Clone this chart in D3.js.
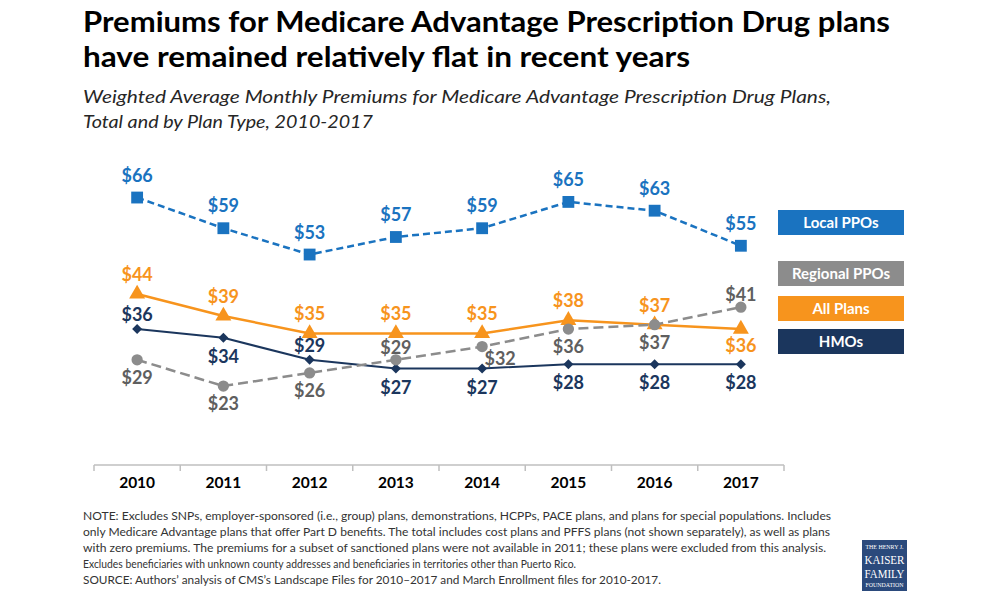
<!DOCTYPE html>
<html>
<head>
<meta charset="utf-8">
<script src="https://cdn.jsdelivr.net/npm/d3@7/dist/d3.min.js"></script>
<style>
  html, body { margin: 0; padding: 0; background: #fff; }
  svg { display: block; font-family: Lato, "Open Sans", sans-serif; }
</style>
</head>
<body>
<svg id="chart" width="1000" height="600"></svg>
<script>
// ---------- data ----------
const years = ["2010", "2011", "2012", "2013", "2014", "2015", "2016", "2017"];
const localPPOs = [66, 59, 53, 57, 59, 65, 63, 55];
const regionalPPOs = [29, 23, 26, 29, 32, 36, 37, 41];
const allPlans = [44, 39, 35, 35, 35, 38, 37, 36];
const hmos = [36, 34, 29, 27, 27, 28, 28, 28];
const seriesNames = ["Local PPOs", "Regional PPOs", "All Plans", "HMOs"];

const titleLines = [
  "Premiums for Medicare Advantage Prescription Drug plans",
  "have remained relatively flat in recent years"
];
const subtitleLines = [
  "Weighted Average Monthly Premiums for Medicare Advantage Prescription Drug Plans,",
  "Total and by Plan Type, 2010-2017"
];
const noteLines = [
  "NOTE: Excludes SNPs, employer-sponsored (i.e., group) plans, demonstrations, HCPPs, PACE plans, and plans for special populations.  Includes",
  "only Medicare Advantage plans that offer Part D benefits. The total includes cost plans and PFFS plans (not shown separately), as well as plans",
  "with zero premiums. The premiums for a subset of sanctioned plans were not available in 2011;  these plans were excluded from this analysis.",
  "Excludes beneficiaries with unknown county addresses and beneficiaries in territories other than Puerto Rico.",
  "SOURCE:  Authors\u2019 analysis of CMS\u2019s Landscape Files for 2010\u20132017  and March Enrollment files for 2010-2017."
];

// ---------- layout / style ----------
const svg = d3.select("#chart");

const x = d3.scaleBand().domain(years).range([94, 784]);
const cx = d => x(d) + x.bandwidth() / 2;
const y = d3.scaleLinear().domain([5, 70]).range([465, 180]);

// Title
const fitText = (sel, w) => sel.attr("textLength", w).attr("lengthAdjust", "spacingAndGlyphs");
svg.append("text").attr("x", 83).attr("y", 32).attr("font-size", 28).attr("font-weight", 700)
  .attr("fill", "#000").text(titleLines[0]).call(fitText, 807);
svg.append("text").attr("x", 83).attr("y", 67).attr("font-size", 28).attr("font-weight", 700)
  .attr("fill", "#000").text(titleLines[1]).call(fitText, 607);
svg.append("text").attr("x", 83).attr("y", 103).attr("font-size", 17.5).attr("font-style", "italic")
  .attr("fill", "#262626").text(subtitleLines[0]).call(fitText, 748);
svg.append("text").attr("x", 83).attr("y", 128).attr("font-size", 17.5).attr("font-style", "italic")
  .attr("fill", "#262626").text(subtitleLines[1]).call(fitText, 290);

// Axis
const axisG = svg.append("g");
axisG.append("line").attr("x1", x.range()[0]).attr("x2", x.range()[1])
  .attr("y1", y(5)).attr("y2", y(5)).attr("stroke", "#bfbfbf").attr("stroke-width", 1.5);
const bounds = years.map(d => x(d)).concat([x.range()[1]]);
axisG.selectAll("line.tick").data(bounds).join("line").attr("class", "tick")
  .attr("x1", d => d).attr("x2", d => d).attr("y1", y(5)).attr("y2", y(5) + 6)
  .attr("stroke", "#bfbfbf").attr("stroke-width", 1.5);
const xAxis = d3.axisBottom(x).tickSize(0).tickPadding(0);
const xg = svg.append("g").attr("transform", `translate(0,${y(5)})`).call(xAxis);
xg.select(".domain").remove();
xg.selectAll("text").attr("dy", null).attr("y", 23).attr("font-size", 15.5).attr("font-weight", 700)
  .attr("fill", "#000").attr("font-family", "Lato, sans-serif");

// Series config
const series = [
  { name: seriesNames[0], values: localPPOs, color: "#1a73c0", label: "#1a73c0", dash: "7,4", width: 2.5,
    symbol: d3.symbolSquare, size: 140, rotate: 0,
    pos: ["a","a","a","a","a","a","a","a"], up: -16, down: 24, dx: [0,0,0,0,0,0,0,0] },
  { name: seriesNames[2], values: allPlans, color: "#f7941d", label: "#f7941d", dash: null, width: 2.5,
    symbol: d3.symbolTriangle, size: 110, rotate: 0,
    pos: ["a","a","a","a","a","a","a","b"], up: -13, down: 23, dx: [0,0,0,0,0,0,0,0] },
  { name: seriesNames[3], values: hmos, color: "#1b365d", label: "#1b365d", dash: null, width: 2,
    symbol: d3.symbolSquare, size: 50, rotate: 45,
    pos: ["a","b","a","b","b","b","b","b"], up: -8, down: 25, dx: [0,0,0,0,0,0,0,0] },
  { name: seriesNames[1], values: regionalPPOs, color: "#8c8c8c", label: "#5f5f5f", dash: "10,5", width: 2.5,
    symbol: d3.symbolCircle, size: 100, rotate: 0,
    pos: ["b","b","b","a","b","b","b","a"], up: -6, down: 24, dx: [0,0,0,0,18,0,0,0] }
];

const line = d3.line().x((v, i) => cx(years[i])).y(v => y(v));

// lines first
series.forEach(s => {
  svg.append("path").datum(s.values).attr("d", line).attr("fill", "none")
    .attr("stroke", s.color).attr("stroke-width", s.width)
    .attr("stroke-dasharray", s.dash);
});
// markers + labels
series.forEach(s => {
  const g = svg.append("g");
  g.selectAll("path").data(s.values).join("path")
    .attr("d", d3.symbol().type(s.symbol).size(s.size))
    .attr("transform", (v, i) => `translate(${cx(years[i])},${y(v)}) rotate(${s.rotate})`)
    .attr("fill", s.color);
  g.selectAll("text").data(s.values).join("text")
    .attr("x", (v, i) => cx(years[i]) + s.dx[i])
    .attr("y", (v, i) => y(v) + (s.pos[i] === "a" ? s.up : s.down) - (i === 4 && s.name === "Regional PPOs" ? 6 : 0))
    .attr("text-anchor", "middle").attr("font-size", 18).attr("font-weight", 700)
    .attr("fill", s.label).text(v => "$" + v);
});

// Legend
const legend = [
  { name: seriesNames[0], color: "#1a73c0", top: 210 },
  { name: seriesNames[1], color: "#8c8c8c", top: 261 },
  { name: seriesNames[2], color: "#f7941d", top: 296 },
  { name: seriesNames[3], color: "#1b365d", top: 329 }
];
const lg = svg.append("g").selectAll("g").data(legend).join("g");
lg.append("rect").attr("x", 778).attr("y", d => d.top).attr("width", 126).attr("height", 25)
  .attr("fill", d => d.color);
lg.append("text").attr("x", 841).attr("y", d => d.top + 18).attr("text-anchor", "middle")
  .attr("font-size", 15).attr("font-weight", 700).attr("fill", "#fff").text(d => d.name);

// Notes
svg.append("g").selectAll("text").data(noteLines).join("text")
  .attr("x", 83).attr("y", (d, i) => 520 + i * 16)
  .attr("font-size", 11).attr("fill", "#333")
  .text(d => d)
  .each(function (d, i) {
    const widths = [748, 747, 743, 493, 578];
    d3.select(this).attr("textLength", widths[i]).attr("lengthAdjust", "spacingAndGlyphs");
  });

// Logo
const logo = svg.append("g");
logo.append("rect").attr("x", 862).attr("y", 540).attr("width", 45).attr("height", 51).attr("fill", "#2b4a7c");
const logoText = [
  { t: "THE HENRY J.", y: 549, s: 5.2 },
  { t: "KAISER", y: 564, s: 12 },
  { t: "FAMILY", y: 578, s: 12 },
  { t: "FOUNDATION", y: 587, s: 5.2 }
];
logo.selectAll("text").data(logoText).join("text")
  .attr("x", 884.5).attr("y", d => d.y).attr("text-anchor", "middle")
  .attr("font-family", "Liberation Serif, DejaVu Serif, serif").attr("font-size", d => d.s)
  .attr("fill", "#fff").text(d => d.t)
  .attr("textLength", d => d.s > 8 ? 40 : 38).attr("lengthAdjust", "spacingAndGlyphs");
</script>
</body>
</html>
